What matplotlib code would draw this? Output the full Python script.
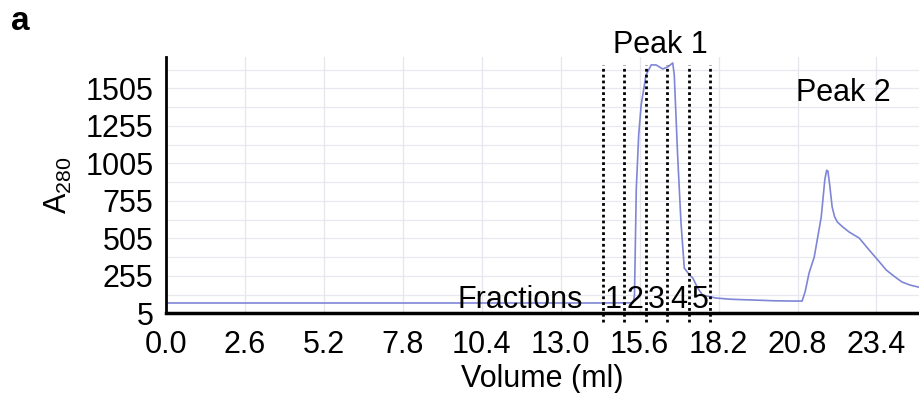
import numpy as np
import matplotlib
matplotlib.use("Agg")
import matplotlib.pyplot as plt

plt.rcParams["font.family"] = ["Liberation Sans", "DejaVu Sans"]
plt.rcParams["mathtext.fontset"] = "custom"
plt.rcParams["mathtext.rm"] = "Liberation Sans"
plt.rcParams["mathtext.it"] = "Liberation Sans"

# chromatogram trace (volume in ml, A280)
volume = [0.0, 5.0, 10.0, 14.0, 15.30, 15.39, 15.43, 15.49, 15.57, 15.65,
          15.81, 15.98, 16.14, 16.36, 16.52, 16.69, 16.74, 16.85, 16.96,
          17.07, 17.24, 17.35, 17.51, 17.67, 18.11, 18.6, 19.3, 20.0, 20.6,
          20.95, 21.05, 21.18, 21.35, 21.58, 21.70, 21.76, 21.80, 21.86,
          21.94, 22.02, 22.11, 22.30, 22.50, 22.83, 23.16, 23.45, 23.72,
          24.00, 24.24, 24.50, 24.80]
a280 = [75, 75, 75, 75, 76, 78, 128, 841, 1200, 1395,
        1595, 1662, 1662, 1635, 1648, 1675, 1595, 1062, 615,
        308, 262, 242, 175, 128, 108, 100, 95, 90, 88,
        88, 150, 275, 382, 648, 900, 960, 955, 860,
        715, 650, 615, 580, 548, 508, 428, 360, 295,
        250, 215, 195, 180]

fraction_edges = [14.38, 15.10, 15.82, 16.51, 17.24, 17.93]
fraction_labels = ["1", "2", "3", "4", "5"]

xticks = [0.0, 2.6, 5.2, 7.8, 10.4, 13.0, 15.6, 18.2, 20.8, 23.4]
yticks = [5, 255, 505, 755, 1005, 1255, 1505]

fs = 22

fig = plt.figure(figsize=(9.19, 3.93), dpi=100)
ax = fig.add_axes([0.1806, 0.2023, 0.8194, 0.6527])

ax.set_xlim(0, 24.8)
ax.set_ylim(5, 1715)

# light grid
for x in xticks[1:]:
    ax.axvline(x, color="#e6e6ec", lw=0.9, zorder=0)
for y in np.arange(130, 1715, 125):
    ax.axhline(y, color="#e8e8f0", lw=0.9, zorder=0)

ax.plot(volume, a280, color="#7f86d6", lw=1.2, zorder=2)

# fraction boundaries
for x in fraction_edges:
    ax.plot([x, x], [-50, 1660], color="black", ls=(0, (1, 1.1)), lw=2,
            clip_on=False, zorder=3)
for i, lab in enumerate(fraction_labels):
    xc = (fraction_edges[i] + fraction_edges[i + 1]) / 2
    ax.text(xc, 95, lab, ha="center", va="center", fontsize=fs, zorder=4)
ax.text(13.72, 95, "Fractions", ha="right", va="center", fontsize=fs)

ax.text(16.28, 1795, "Peak 1", ha="center", va="center", fontsize=fs,
        clip_on=False)
ax.text(22.30, 1475, "Peak 2", ha="center", va="center", fontsize=fs)

ax.set_xticks(xticks)
ax.set_xticklabels(["%.1f" % v for v in xticks])
ax.set_yticks(yticks)
ax.tick_params(axis="both", length=0, labelsize=fs)
ax.tick_params(axis="x", pad=12)
ax.tick_params(axis="y", pad=9)

for s in ["top", "right"]:
    ax.spines[s].set_visible(False)
ax.spines["left"].set_linewidth(2)
ax.spines["bottom"].set_linewidth(2.5)

ax.set_xlabel("Volume (ml)", fontsize=fs, labelpad=3)
ax.set_ylabel(r"A$_{\mathrm{280}}$", fontsize=fs, labelpad=8)

fig.text(0.012, 0.945, "a", fontsize=24, fontweight="bold", va="center")

fig.savefig("out.png", dpi=100)
